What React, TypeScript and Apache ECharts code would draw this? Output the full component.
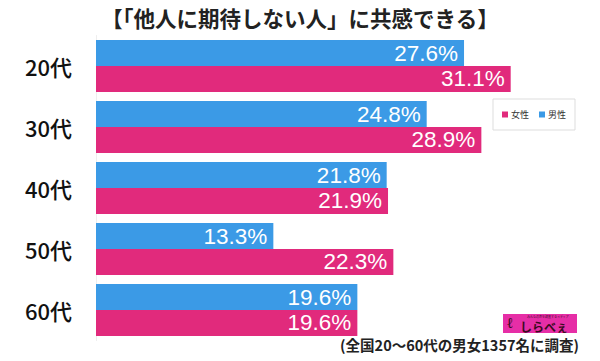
import React, { useEffect, useRef } from "react";
import * as echarts from "echarts";

const categories = ["20代", "30代", "40代", "50代", "60代"];
const female = [31.1, 28.9, 21.9, 22.3, 19.6];
const male = [27.6, 24.8, 21.8, 13.3, 19.6];
const seriesNames = ["女性", "男性"];
const titleText = "【「他人に期待しない人」に共感できる】";
const footerText = "(全国20～60代の男女1357名に調査)";

const PINK = "#e12a7c";
const BLUE = "#3b9ae6";
const JP = "'Noto Sans CJK JP', 'Noto Sans', sans-serif";

export default function App() {
  const ref = useRef<HTMLDivElement>(null);
  useEffect(() => {
    if (!ref.current) return;
    const chart = echarts.init(ref.current, null, { renderer: "svg" });
    const label = {
      show: true,
      position: "insideRight",
      distance: 6,
      color: "#ffffff",
      fontSize: 22.5,
      lineHeight: 20,
      fontFamily: "'Liberation Sans', Arial, sans-serif",
      formatter: (p: any) => p.value.toFixed(1) + "%",
    };
    chart.setOption({
      animation: false,
      backgroundColor: "#ffffff",
      title: {
        text: titleText,
        left: "center",
        top: 2,
        textStyle: { fontSize: 21.5, fontWeight: "bold", color: "#222", fontFamily: JP },
      },
      legend: {
        data: seriesNames,
        left: 493,
        top: 99,
        orient: "horizontal",
        icon: "rect",
        itemWidth: 6,
        itemHeight: 6,
        itemGap: 10,
        padding: [11, 9],
        borderColor: "#dddddd",
        borderWidth: 1,
        textStyle: { fontSize: 9, color: "#333", fontFamily: JP, padding: [0, 0, 0, -2] },
      },
      grid: { left: 96, top: 35.5, width: 466.7, height: 305, containLabel: false },
      xAxis: {
        type: "value",
        min: 0,
        max: 35,
        show: false,
      },
      yAxis: {
        type: "category",
        data: categories,
        inverse: true,
        axisLine: { show: true, lineStyle: { color: "#eeeeee", width: 1 } },
        axisTick: { show: false },
        axisLabel: { color: "#111", fontSize: 22, fontFamily: JP, margin: 24, fontWeight: 500 },
      },
      series: [
        {
          name: seriesNames[1],
          type: "bar",
          data: male,
          barCategoryGap: "15%",
          barGap: "0%",
          itemStyle: { color: BLUE },
          label,
        },
        {
          name: seriesNames[0],
          type: "bar",
          data: female,
          barCategoryGap: "15%",
          barGap: "0%",
          itemStyle: { color: PINK },
          label,
        },
      ],
      graphic: [
        {
          type: "rect",
          left: 503,
          top: 314,
          shape: { width: 74, height: 19 },
          style: { fill: "#e62ea6" },
        },
        {
          type: "text",
          left: 527,
          top: 315,
          style: { text: "みんなの声を調査するメディア", fontSize: 3, fill: "#4a1030", fontFamily: JP },
        },
        {
          type: "text",
          left: 507,
          top: 315,
          style: { text: "ℓ", fontSize: 15, lineHeight: 15, fill: "#3a0a20", fontFamily: "serif", fontWeight: "bold" },
        },
        {
          type: "text",
          left: 520,
          top: 320,
          style: { text: "しらべぇ", fontSize: 12, lineHeight: 12, fill: "#3a0a20", fontFamily: JP, fontWeight: "bold" },
        },
        {
          type: "text",
          right: 21,
          top: 336,
          style: { text: footerText, fontSize: 14.5, lineHeight: 16, fill: "#222", fontFamily: JP, fontWeight: "bold" },
        },
      ],
    });
    return () => chart.dispose();
  }, []);
  return <div ref={ref} style={{ position: "fixed", left: 0, top: 0, width: 600, height: 361 }} />;
}
